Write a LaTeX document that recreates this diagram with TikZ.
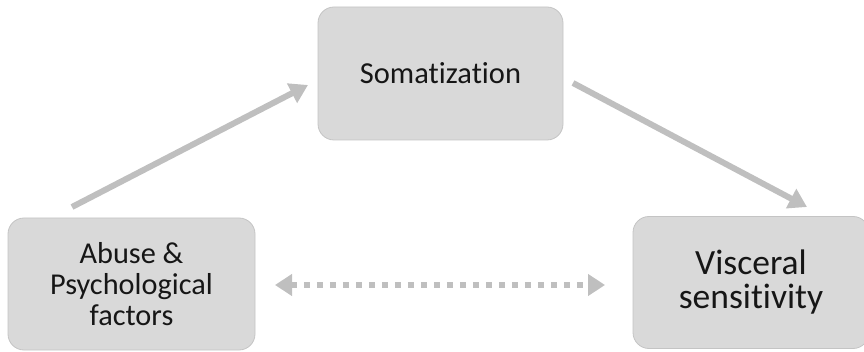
\documentclass[tikz,border=0pt]{standalone}
\usepackage{fontspec}
\setmainfont{Carlito}[Ligatures=NoCommon]
\usetikzlibrary{arrows.meta}
\definecolor{boxfill}{HTML}{D9D9D9}
\definecolor{boxline}{HTML}{C4C4C4}
\definecolor{arrowgray}{HTML}{BFBFBF}
\definecolor{textdark}{HTML}{161616}
\tikzset{
  factor/.style={draw=boxline, line width=0.8pt, fill=boxfill, rounded corners=16pt,
    inner sep=0pt, align=center, text=textdark},
  flow/.style={draw=arrowgray, line width=6pt,
    -{Triangle[length=18pt,width=21pt]}},
  assoc/.style={draw=arrowgray, line width=6pt, dash pattern=on 6pt off 7pt,
    {Triangle[length=17pt,width=21pt]}-{Triangle[length=17pt,width=21pt]}},
}
\begin{document}
\begin{tikzpicture}[x=1pt,y=-1pt]
  \useasboundingbox (0,0) rectangle (864,352);
  \clip (0,0) rectangle (864,352);

  % the three factors
  \node[factor, minimum width=245pt, minimum height=133pt,
        font=\fontsize{30.5}{33}\selectfont] (som) at (440.5,73.5) {Somatization};
  \node[factor, minimum width=247pt, minimum height=132pt,
        font=\fontsize{30.3}{31}\selectfont] (abuse) at (131.5,284)
        {Abuse \&\\Psychological\\factors};
  \node[factor, minimum width=236pt, minimum height=132pt,
        font=\fontsize{35.5}{34}\selectfont] (visc) at (751,282.5)
        {Visceral\\sensitivity};

  % arrow end points
  \coordinate (a1s) at (72,207);
  \coordinate (a1e) at (308,85);
  \coordinate (a2s) at (573,83);
  \coordinate (a2e) at (807,207);
  \coordinate (dl) at (275,285);
  \coordinate (dr) at (605,285);

  % directed paths and the two-way association
  \draw[flow] (a1s) -- (a1e);
  \draw[flow] (a2s) -- (a2e);
  \draw[assoc] (dl) -- (dr);
\end{tikzpicture}
\end{document}
